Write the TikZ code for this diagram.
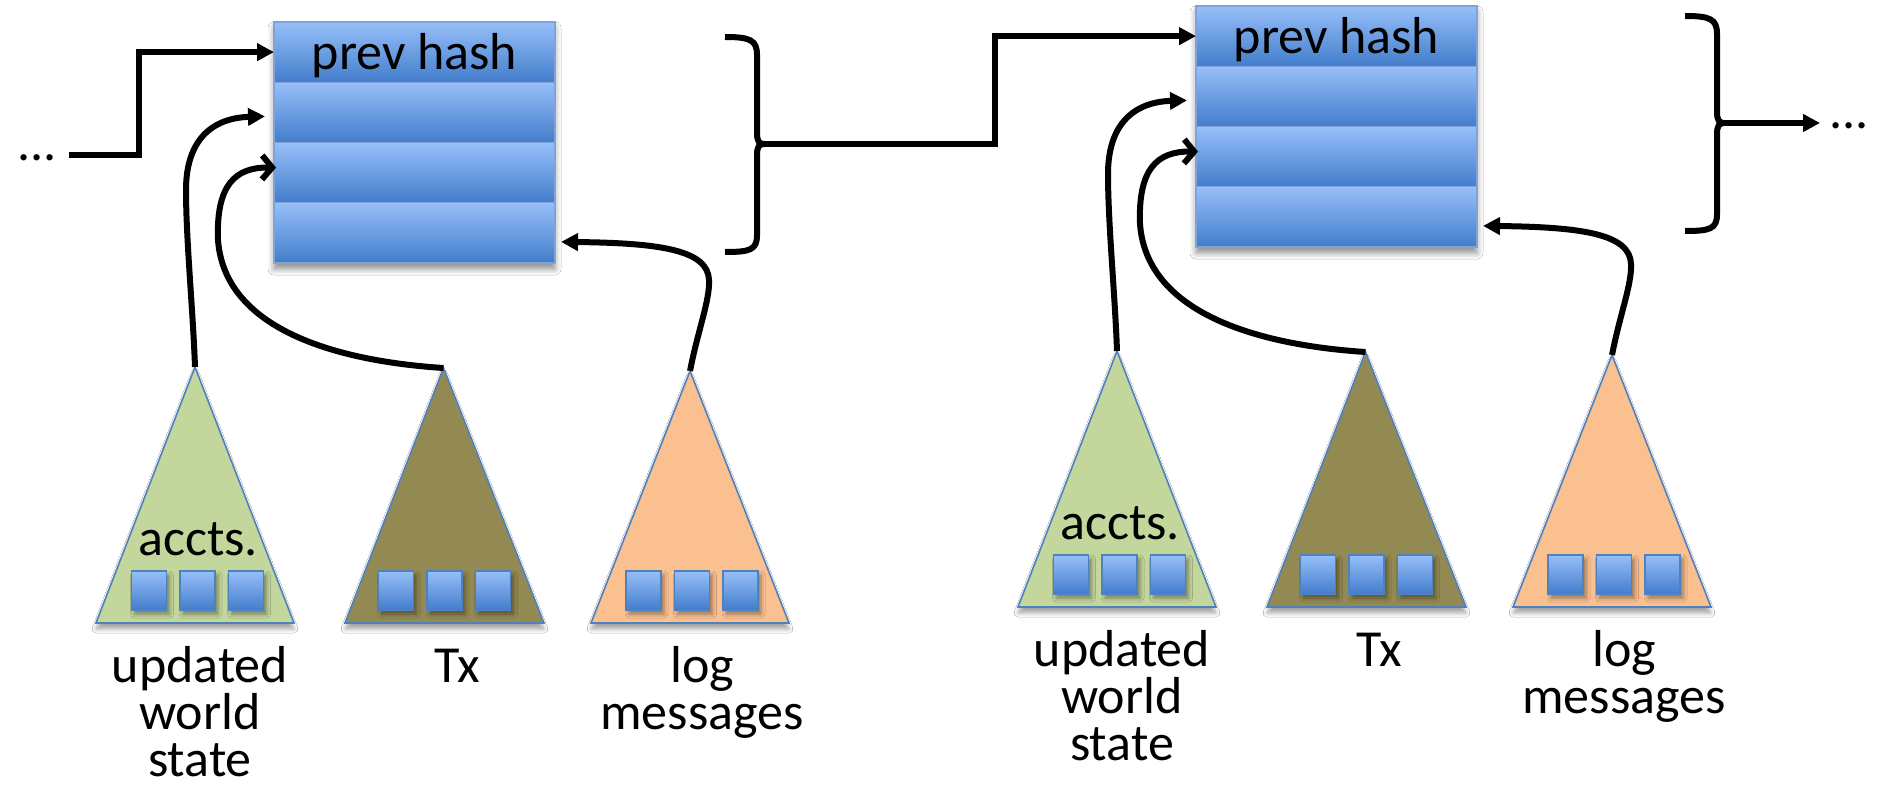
\documentclass[tikz,border=0pt]{standalone}
\usepackage{fontspec}
\setmainfont{Carlito}
\usetikzlibrary{arrows.meta,shadows.blur,calc}
\definecolor{blkTop}{RGB}{151,191,249}
\definecolor{blkBot}{RGB}{66,125,203}
\definecolor{blkEdge}{RGB}{125,162,220}
\definecolor{triEdge}{RGB}{79,129,189}
\definecolor{accGreen}{RGB}{195,214,155}
\definecolor{txOlive}{RGB}{147,137,83}
\definecolor{logOrange}{RGB}{250,192,144}
\tikzset{
  rowbox/.style={draw=blkEdge, line width=0.6pt, top color=blkTop, bottom color=blkBot,
    minimum width=140.5pt, minimum height=30.125pt, inner sep=0pt, outer sep=0pt},
  blockback/.style={fill=blkBot, minimum width=140.5pt, minimum height=120.5pt, inner sep=0pt,
    blur shadow={shadow xshift=0pt, shadow yshift=-3pt, shadow blur radius=3pt, shadow opacity=45}},
  leafbox/.style={draw=triEdge, line width=0.6pt, top color=blkTop, bottom color=blkBot,
    minimum width=17.5pt, minimum height=19.5pt, inner sep=0pt,
    blur shadow={shadow xshift=1.5pt, shadow yshift=-2pt, shadow blur radius=2pt, shadow opacity=40}},
  lbl/.style={font=\fontsize{26}{23.5}\selectfont, align=center, inner sep=0pt},
  link/.style={line width=3pt, black},
  headtip/.style={-{Triangle[length=8.5pt,width=8.5pt]}},
  bartip/.style={-{Straight Barb[length=5pt,width=12pt]}},
  tri/.style={draw=triEdge, line width=0.8pt,
    blur shadow={shadow xshift=0pt, shadow yshift=-3pt, shadow blur radius=2pt, shadow opacity=35}},
}
% #1 prefix, #2 xshift, #3 yshift (pixels)
\newcommand{\chainblock}[3]{%
\begin{scope}[shift={(#2,#3)}]
  % block of four rows
  \node[blockback] (#1blk) at (414.5,142.5) {};
  \node[rowbox] (#1r1) at (414.5,52.125) {};
  \node[rowbox] (#1r2) at (414.5,112.375) {};
  \node[rowbox] (#1r3) at (414.5,172.625) {};
  \node[rowbox] (#1r4) at (414.5,232.875) {};
  \node[lbl, anchor=base] (#1ph) at (414.5,70) {prev hash};
  % triangles
  \draw[tri, fill=accGreen] (195,367) -- (294,623) -- (96,623) -- cycle;
  \draw[tri, fill=txOlive] (443.5,368) -- (544,623) -- (345,623) -- cycle;
  \draw[tri, fill=logOrange] (690,371) -- (789,623) -- (591,623) -- cycle;
  \coordinate (#1gA) at (195,367);
  \coordinate (#1oA) at (443.5,368);
  \coordinate (#1rA) at (690,371);
  \foreach \dx [count=\i] in {-48.5,0,48.5} {
    \node[leafbox] (#1gs\i) at (197.5+\dx,590.5) {};
    \node[leafbox] (#1os\i) at (444.5+\dx,590.5) {};
    \node[leafbox] (#1rs\i) at (692+\dx,590.5) {};
  }
  \node[lbl, anchor=base] (#1accts) at (198,555) {accts.};
  % anchor=base of a multi-line node is the baseline of its last line
  \node[lbl, anchor=base] (#1lw) at (200,776) {updated\\world\\state};
  \node[lbl, anchor=base] (#1lt) at (457,682) {Tx};
  \node[lbl, anchor=base] (#1ll) at (702,729) {log\\messages};
  % connectors from the trees into the block
  \draw[link, headtip] (#1gA) .. controls (193,310) and (186,240) .. (186,190)
     .. controls (186,140) and (212,118) .. ($(#1r2.west)+(-9,4)$);
  \draw[link, bartip] (#1oA) .. controls (350,362) and (225,335) .. (218,240)
     .. controls (216,185) and (235,167) .. ($(#1r3.west)+(2,-5)$);
  \draw[link, headtip] (#1rA) .. controls (698,330) and (710,300) .. (709,280)
     .. controls (708,250) and (660,243) .. ($(#1r4.east)+(6,9)$);
\end{scope}}
% right bracket: #1 name of cusp, #2 xshift, #3 yshift
\newcommand{\rightbracket}[3]{%
\begin{scope}[shift={(#2,#3)}]
  \draw[link, line cap=butt] (725,37) .. controls (750,37) and (757,40) .. (757,55) -- (757,133)
     .. controls (757,141) and (759,144) .. (764,144)
     .. controls (759,144) and (757,147) .. (757,155) -- (757,235)
     .. controls (757,250) and (750,252) .. (725,252);
  \coordinate (#1) at (764,144);
\end{scope}}
\begin{document}
\begin{tikzpicture}[x=0.5pt, y=-0.5pt]
  \useasboundingbox (0,0) rectangle (1878,786);
  \fill[white] (0,0) rectangle (1878,786);
  \chainblock{A}{0}{0}
  \chainblock{B}{922}{-16}
  \rightbracket{Abr}{0}{0}
  \rightbracket{Bbr}{960}{-21}
  % incoming chain
  \node[lbl, anchor=base] (dotsL) at (37,161) {...};
  \coordinate (startL) at (69,155);
  \draw[link, headtip] (startL) -- (139,155) |- (Ar1.west);
  % block A to block B
  \draw[link, headtip] (Abr) -- (995,144) |- (Br1.west);
  % outgoing chain
  \coordinate (endR) at (1820,123);
  \draw[link, headtip] (Bbr) -- (endR);
  \node[lbl, anchor=base] (dotsR) at (1849,129) {...};
\end{tikzpicture}
\end{document}
